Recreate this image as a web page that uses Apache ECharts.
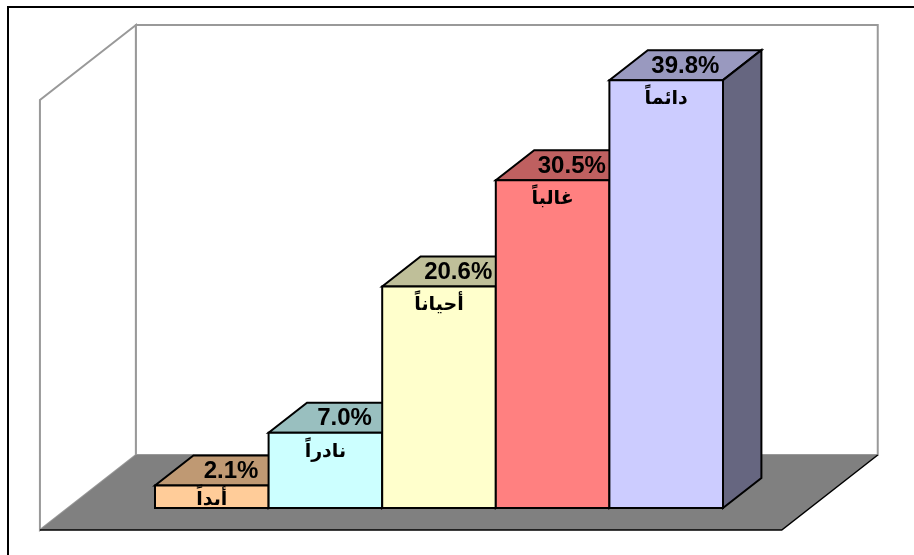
<!DOCTYPE html>
<html>
<head>
<meta charset="utf-8">
<script src="https://cdn.jsdelivr.net/npm/echarts@6/dist/echarts.min.js"></script>
<style>
html, body { margin: 0; padding: 0; background: #fff; }
#chart { width: 914px; height: 555px; }
</style>
</head>
<body>
<div id="chart"></div>
<script>
var categories = ['أبداً', 'نادراً', 'أحياناً', 'غالباً', 'دائماً'];
var values = [2.1, 7.0, 20.6, 30.5, 39.8];
var frontColors = ['#FFCC99', '#CCFFFF', '#FFFFCC', '#FF8080', '#CCCCFF'];
var topColors = ['#BF9973', '#99BFBF', '#BFBF99', '#BF6060', '#9999BF'];
var sideColors = ['#806650', '#668080', '#808066', '#804040', '#666680'];
var yMax = 40;

// fake 3d: depth goes up and to the right
var SLANT = 1.28;
var BAR_DEPTH = 30, FLOOR_FRONT = 22, FLOOR_BACK = 53;

var myChart = echarts.init(document.getElementById('chart'));

function renderFrame(params, api) {
    var cs = params.coordSys;
    var band = api.size([1, 0])[0];
    var gap = band * 0.765;
    var x0 = cs.x - gap, x1 = cs.x + cs.width + gap;
    var yb = api.coord([0, 0])[1], yt = api.coord([0, yMax])[1];
    var bx = FLOOR_BACK * SLANT, by = -FLOOR_BACK;
    var fx = -FLOOR_FRONT * SLANT, fy = FLOOR_FRONT;
    var wall = { fill: '#fff', stroke: '#999', lineWidth: 2 };
    return {
        type: 'group',
        children: [
            { type: 'polygon', shape: { points: [[x0 + fx, yb + fy], [x0 + fx, yt + fy], [x0 + bx, yt + by], [x0 + bx, yb + by]] }, style: wall, z2: 1 },
            { type: 'polygon', shape: { points: [[x0 + bx, yb + by], [x0 + bx, yt + by], [x1 + bx, yt + by], [x1 + bx, yb + by]] }, style: wall, z2: 1 },
            { type: 'polygon', shape: { points: [[x0 + fx, yb + fy], [x0 + bx, yb + by], [x1 + bx, yb + by], [x1 + fx, yb + fy]] }, style: { fill: '#808080', stroke: null }, z2: 2 },
            { type: 'polyline', shape: { points: [[x0 + fx, yb + fy], [x1 + fx, yb + fy], [x1 + bx, yb + by]] }, style: { stroke: '#000', lineWidth: 1.5, fill: null }, z2: 3 }
        ]
    };
}

function renderBar(params, api) {
    var i = params.dataIndex;
    var top = api.coord([api.value(0), api.value(1)]);
    var base = api.coord([api.value(0), 0]);
    var w = api.size([1, 0])[0];
    var l = top[0] - w / 2, r = top[0] + w / 2;
    var t = top[1], b = base[1];
    var dx = BAR_DEPTH * SLANT, dy = -BAR_DEPTH;
    var line = { stroke: '#000', lineWidth: 2, lineJoin: 'miter' };
    var labelY = t + Math.min(19, (b - t) / 2 + 3);
    return {
        type: 'group',
        children: [
            { type: 'polygon', z2: i * 10 + 1, shape: { points: [[l, t], [r, t], [r + dx, t + dy], [l + dx, t + dy]] },
              style: Object.assign({ fill: topColors[i] }, line) },
            { type: 'polygon', z2: i * 10 + 1, shape: { points: [[r, t], [r + dx, t + dy], [r + dx, b + dy], [r, b]] },
              style: Object.assign({ fill: sideColors[i] }, line) },
            { type: 'rect', z2: i * 10 + 2, shape: { x: l, y: t, width: w, height: b - t },
              style: Object.assign({ fill: frontColors[i] }, line) },
            { type: 'text', z2: i * 10 + 3,
              style: { text: values[i].toFixed(1) + '%', x: (l + r) / 2 + dx / 2, y: t + dy / 2 + 1,
                       align: 'center', verticalAlign: 'middle', fill: '#000',
                       font: 'bold 24px "Liberation Sans", Arial, sans-serif' } },
            { type: 'text', z2: i * 10 + 4,
              style: { text: categories[i], x: (l + r) / 2, y: labelY,
                       align: 'center', verticalAlign: 'middle', fill: '#000',
                       font: 'bold 19px "DejaVu Sans", sans-serif' } }
        ]
    };
}

var option = {
    animation: false,
    grid: { left: 155, right: 191, top: 78, bottom: 47 },
    xAxis: { type: 'category', data: categories, show: false },
    yAxis: { type: 'value', min: 0, max: yMax, show: false, splitLine: { show: false } },
    graphic: [{
        type: 'rect', shape: { x: 8, y: 7, width: 940, height: 580 },
        style: { fill: null, stroke: '#000', lineWidth: 2 }, z: 100
    }],
    series: [
        { type: 'custom', z: 1, renderItem: renderFrame, data: [[0, 0]], silent: true },
        { type: 'custom', z: 2, renderItem: renderBar,
          data: values.map(function (v, i) { return [i, v]; }) }
    ]
};

myChart.setOption(option);
window.addEventListener('resize', function () {
    myChart.resize();
});
</script>
</body>
</html>
